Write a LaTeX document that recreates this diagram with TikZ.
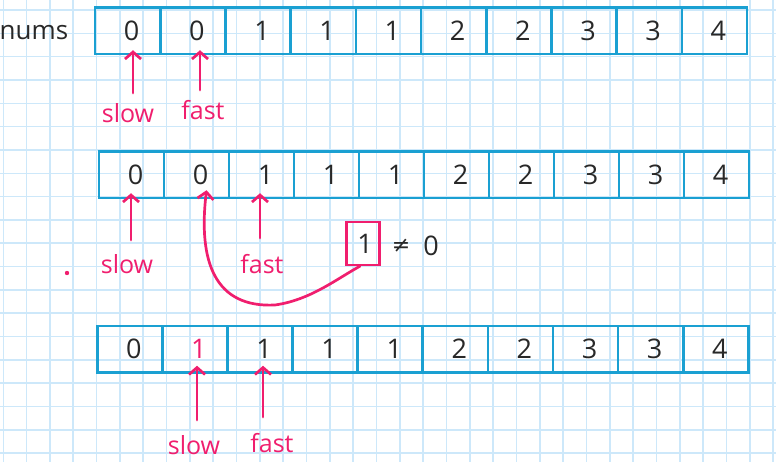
\documentclass[tikz,border=0pt]{standalone}
\usepackage{fontspec}
\setmainfont{Open Sans}
\newfontfamily\symfont{DejaVu Sans}
\usetikzlibrary{arrows.meta}
\definecolor{gridblue}{RGB}{205,232,250}
\definecolor{cellblue}{RGB}{26,160,210}
\definecolor{hotpink}{RGB}{240,30,110}
\definecolor{ink}{RGB}{40,40,40}
\tikzset{
  cell/.style={draw=cellblue, line width=2.6pt, minimum width=65.2pt, minimum height=46.5pt, inner sep=0pt, text=ink, font=\fontsize{27}{27}\selectfont},
  lbl/.style={text=hotpink, font=\fontsize{25}{25}\selectfont, inner sep=0pt},
  parrow/.style={draw=hotpink, line width=2.7pt, line cap=round, -{Straight Barb[length=7pt,width=16pt,line width=2.7pt]}},
}
\begin{document}
\begin{tikzpicture}[x=1pt,y=-1pt]
\useasboundingbox (0,0) rectangle (776,462);
\fill[white] (0,0) rectangle (776,462);
% grid
\foreach \k in {0,...,33} \draw[gridblue, line width=1.6pt] (3.3+23.33*\k,0) -- (3.3+23.33*\k,462);
\foreach \k in {0,...,19} \draw[gridblue, line width=1.6pt] (0,10+23.33*\k) -- (776,10+23.33*\k);
% label
\node[text=ink, font=\fontsize{26}{26}\selectfont, inner sep=0pt] (nums) at (34,33) {nums};
% arrays
\foreach \v [count=\i from 0] in {0,0,1,1,1,2,2,3,3,4} {
  \node[cell] (a\i) at (95+65.2*\i+32.6,30.7) {\hspace*{8pt}\v};
  \node[cell] (b\i) at (99+65.0*\i+32.5,174.7) {\hspace*{8pt}\v};
}
\foreach \v [count=\i from 0] in {0,1,1,1,1,2,2,3,3,4} {
  \ifnum\i=1
    \node[cell, text=hotpink] (c\i) at (97.3+65.1*\i+32.55,349.2) {\hspace*{8pt}\v};
  \else
    \node[cell] (c\i) at (97.3+65.1*\i+32.55,349.2) {\hspace*{8pt}\v};
  \fi
}
% row 1 pointers
\node[lbl] (slowA) at (128,113) {slow};
\node[lbl] (fastA) at (203,110) {fast};
\coordinate (sa) at (133,93);
\coordinate (fa) at (200,90);
\draw[parrow] (sa) -- ([yshift=5pt]sa |- a0.south);
\draw[parrow] (fa) -- ([yshift=5pt]fa |- a1.south);
% row 2 pointers
\node[lbl] (slowB) at (127,264) {slow};
\node[lbl] (fastB) at (262,264) {fast};
\coordinate (sb) at (131,240);
\coordinate (fb) at (260,238);
\draw[parrow] (sb) -- ([yshift=6pt]sb |- b0.south);
\draw[parrow] (fb) -- ([yshift=6pt]fb |- b2.south);
% compare box
\node[draw=hotpink, line width=2.3pt, minimum width=33pt, minimum height=43pt, inner sep=0pt, text=ink, font=\fontsize{27}{27}\selectfont] (box) at (363,243.5) {\hspace*{4pt}1};
\node[text=ink, font=\symfont\fontsize{22}{22}\selectfont, inner sep=0pt] (neq) at (401,246) {≠};
\node[text=ink, font=\fontsize{27}{27}\selectfont, inner sep=0pt] (zero) at (431,246) {0};
\draw[parrow] ([xshift=-3pt]box.south) .. controls (335,280) and (310,300) .. (275,305)
  .. controls (215,308) and (198,262) .. ([xshift=10pt,yshift=9pt]b1.south);
% stray dot
\fill[hotpink] (67,273) circle (2.2pt);
% row 3 pointers
\node[lbl] (slowC) at (194,445) {slow};
\node[lbl] (fastC) at (272,443) {fast};
\coordinate (sc) at (197,420);
\coordinate (fc) at (263,417);
\draw[parrow] (sc) -- ([yshift=8pt]sc |- c1.south);
\draw[parrow] (fc) -- ([yshift=8pt]fc |- c2.south);
\end{tikzpicture}
\end{document}
